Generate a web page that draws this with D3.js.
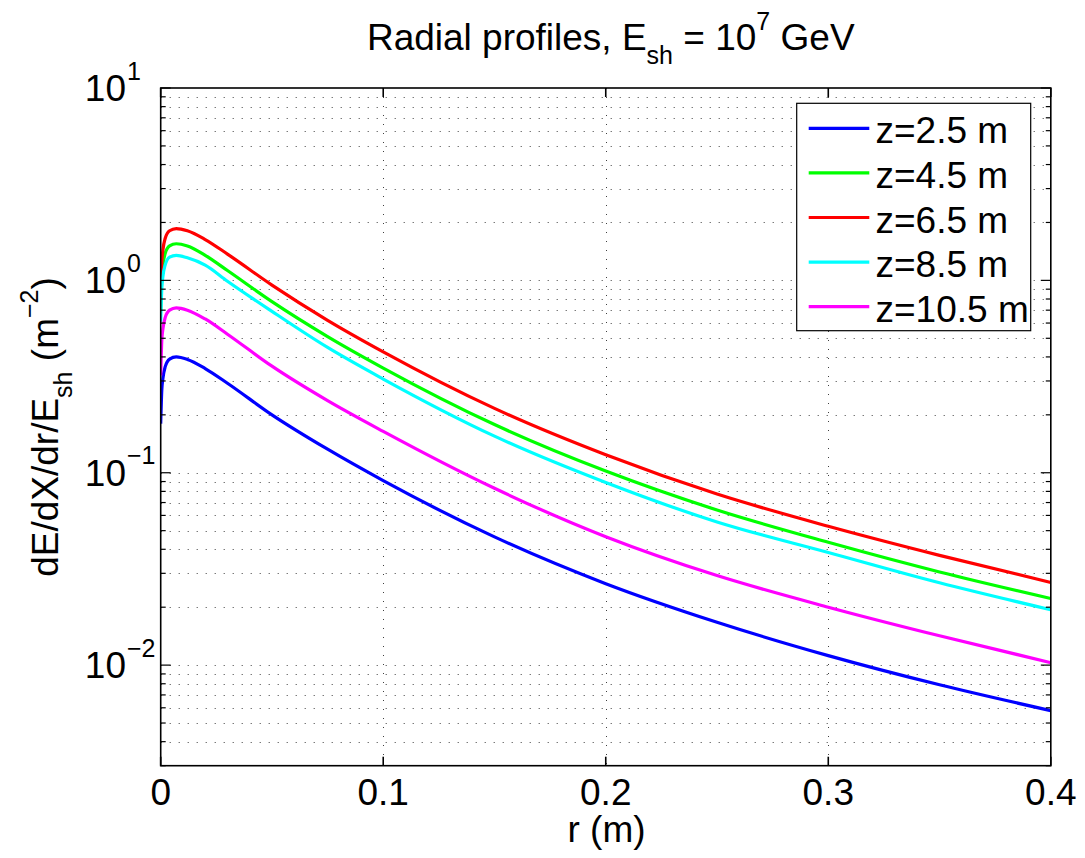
<!DOCTYPE html>
<html>
<head>
<meta charset="utf-8">
<script src="https://cdn.jsdelivr.net/npm/d3@7"></script>
<style>
  html, body { margin: 0; padding: 0; background: #fff; }
  svg { display: block; font-family: "Liberation Sans", Arial, Helvetica, sans-serif; }
</style>
</head>
<body>
<svg id="chart" width="1085" height="858"></svg>
<script>
// ---- data ----
const rValues = [0, 0.0005, 0.001, 0.002, 0.004, 0.007, 0.012, 0.02, 0.03, 0.05, 0.075, 0.1, 0.15, 0.2, 0.25, 0.3, 0.35, 0.4];
const seriesNames = ["z=2.5 m", "z=4.5 m", "z=6.5 m", "z=8.5 m", "z=10.5 m"];
const seriesColors = ["#0000ff", "#00ff00", "#ff0000", "#00ffff", "#ff00ff"];
const z25  = [0.18, 0.27, 0.31, 0.355, 0.39, 0.40, 0.388, 0.348, 0.292, 0.200, 0.1325, 0.091, 0.0464, 0.0265, 0.0167, 0.0112, 0.0079, 0.0058];
const z45  = [0.70, 1.05, 1.20, 1.38, 1.51, 1.55, 1.51, 1.35, 1.125, 0.775, 0.51, 0.35, 0.178, 0.102, 0.064, 0.0435, 0.0305, 0.0222];
const z65  = [0.84, 1.25, 1.44, 1.65, 1.81, 1.86, 1.81, 1.63, 1.37, 0.945, 0.62, 0.425, 0.216, 0.124, 0.0775, 0.0527, 0.0372, 0.0269];
const z85  = [0.61, 0.91, 1.05, 1.20, 1.32, 1.35, 1.31, 1.20, 0.99, 0.69, 0.448, 0.307, 0.155, 0.089, 0.0555, 0.0385, 0.0268, 0.0194];
const z105 = [0.32, 0.49, 0.56, 0.64, 0.70, 0.72, 0.70, 0.63, 0.525, 0.358, 0.237, 0.164, 0.083, 0.0465, 0.0292, 0.020, 0.0142, 0.0103];
const seriesValues = [z25, z45, z65, z85, z105];
const xTicks = [0, 0.1, 0.2, 0.3, 0.4];
const xTickLabels = ["0", "0.1", "0.2", "0.3", "0.4"];
const yDecades = [-2, -1, 0, 1];
const xDomain = [0, 0.4];
const yDomain = [0.003, 10];

// ---- layout ----
const L = 160.7, R = 1050.8, T = 88, B = 765.7;
const FONT = 37, SUP = 25;
const svg = d3.select("#chart");
const x = d3.scaleLinear().domain(xDomain).range([L, R]);
const y = d3.scaleLog().domain(yDomain).range([B, T]);

svg.append("rect").attr("x", L).attr("y", T).attr("width", R - L).attr("height", B - T).attr("fill", "#fff");

// minor/major y values
const yAll = [];
for (let e = -3; e <= 1; e++) {
  for (let m = 1; m <= 9; m++) {
    const v = m * Math.pow(10, e);
    if (v >= yDomain[0] * 0.999 && v <= yDomain[1] * 1.001) yAll.push({v, major: m === 1});
  }
}

// grid
const grid = svg.append("g").attr("stroke", "#000").attr("stroke-width", 1).attr("stroke-dasharray", "1,8").attr("opacity", 0.75);
yAll.forEach(d => {
  const yy = Math.round(y(d.v)) + 0.5;
  if (yy > T + 1 && yy < B - 1) grid.append("line").attr("x1", L).attr("x2", R).attr("y1", yy).attr("y2", yy);
});
xTicks.forEach(t => {
  const xx = Math.round(x(t)) + 0.5;
  if (xx > L + 1 && xx < R - 1) grid.append("line").attr("x1", xx).attr("x2", xx).attr("y1", T).attr("y2", B);
});

// curves
svg.append("clipPath").attr("id", "clip").append("rect").attr("x", L).attr("y", T).attr("width", R - L).attr("height", B - T);
const line = d3.line().x(d => x(d[0])).y(d => y(d[1])).curve(d3.curveMonotoneX);
seriesValues.forEach((vals, i) => {
  svg.append("path")
    .datum(rValues.map((r, j) => [r, vals[j]]))
    .attr("clip-path", "url(#clip)")
    .attr("fill", "none").attr("stroke", seriesColors[i]).attr("stroke-width", 3.2)
    .attr("stroke-linejoin", "round")
    .attr("d", line);
});

// axes box and ticks
const ax = svg.append("g").attr("stroke", "#000").attr("stroke-width", 1.6);
ax.append("rect").attr("x", L).attr("y", T).attr("width", R - L).attr("height", B - T).attr("fill", "none");
xTicks.forEach(t => {
  const xx = x(t);
  ax.append("line").attr("x1", xx).attr("x2", xx).attr("y1", B).attr("y2", B - 9);
  ax.append("line").attr("x1", xx).attr("x2", xx).attr("y1", T).attr("y2", T + 9);
});
yAll.forEach(d => {
  const yy = y(d.v);
  const len = d.major ? 10 : 5;
  ax.append("line").attr("x1", L).attr("x2", L + len).attr("y1", yy).attr("y2", yy).attr("stroke-width", 1.2);
  ax.append("line").attr("x1", R).attr("x2", R - len).attr("y1", yy).attr("y2", yy).attr("stroke-width", 1.2);
});

// x tick labels
xTicks.forEach((t, i) => {
  svg.append("text").attr("x", x(t)).attr("y", 805).attr("text-anchor", "middle")
    .attr("font-size", FONT).attr("fill", "#000").text(xTickLabels[i]);
});

// y tick labels
yDecades.forEach(e => {
  const yy = y(Math.pow(10, e));
  svg.append("text").attr("x", 126).attr("y", yy + 13).attr("text-anchor", "end")
    .attr("font-size", FONT).attr("fill", "#000").text("10");
  svg.append("text").attr("x", 127).attr("y", yy - 8.5).attr("text-anchor", "start")
    .attr("font-size", SUP).attr("fill", "#000").text(e < 0 ? "\u2212" + Math.abs(e) : String(e));
});

// title
const title = svg.append("text").attr("x", (L + R) / 2 + 5).attr("y", 50).attr("text-anchor", "middle")
  .attr("font-size", FONT).attr("fill", "#000");
title.append("tspan").text("Radial profiles, E");
title.append("tspan").attr("font-size", SUP).attr("dy", 14).text("sh");
title.append("tspan").attr("dy", -14).text(" = 10");
title.append("tspan").attr("font-size", SUP).attr("dy", -20).text("7");
title.append("tspan").attr("dy", 20).text(" GeV");

// x label
svg.append("text").attr("x", 606.5).attr("y", 842).attr("text-anchor", "middle")
  .attr("font-size", FONT).attr("fill", "#000").text("r (m)");

// y label
const yl = svg.append("text").attr("transform", "translate(58,427) rotate(-90)").attr("text-anchor", "middle")
  .attr("font-size", FONT).attr("fill", "#000");
yl.append("tspan").text("dE/dX/dr/E");
yl.append("tspan").attr("font-size", SUP).attr("dy", 14).text("sh");
yl.append("tspan").attr("dy", -14).text("  (m");
yl.append("tspan").attr("font-size", SUP).attr("dy", -20).text("\u22122");
yl.append("tspan").attr("dy", 20).text(")");

// legend
const lg = svg.append("g");
lg.append("rect").attr("x", 796.7).attr("y", 103.3).attr("width", 234).attr("height", 227.4)
  .attr("fill", "#fff").attr("stroke", "#000").attr("stroke-width", 1.2);
seriesNames.forEach((name, i) => {
  const yy = 128.3 + i * 44.6;
  lg.append("line").attr("x1", 808.7).attr("x2", 869.3).attr("y1", yy).attr("y2", yy)
    .attr("stroke", seriesColors[i]).attr("stroke-width", 3.2);
  lg.append("text").attr("x", 875.5).attr("y", yy + 15).attr("font-size", FONT).attr("fill", "#000").text(name);
});
</script>
</body>
</html>
